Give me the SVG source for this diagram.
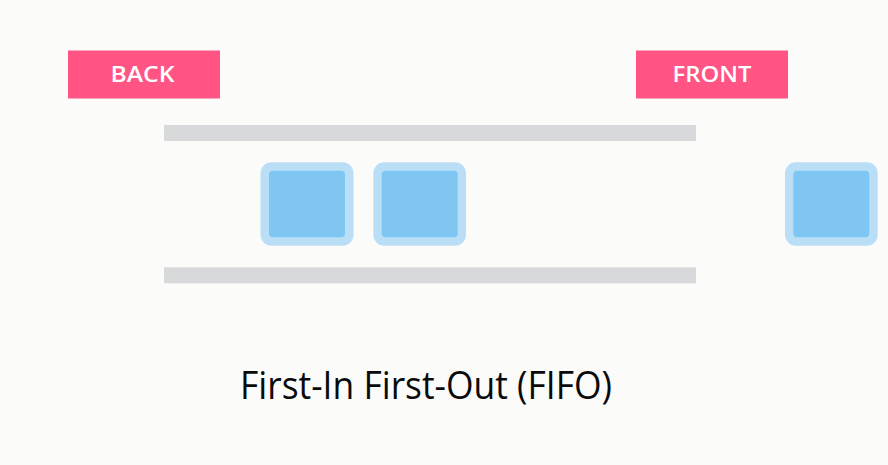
<svg xmlns="http://www.w3.org/2000/svg" width="888" height="465" viewBox="0 0 888 465">
<style>
.tag{fill:#FF5484}
.tagt{fill:#FFFFFF;font-family:"Open Sans","Liberation Sans",sans-serif;font-weight:600;font-size:22px;text-anchor:middle}
.bar{fill:#D8D9DB}
.outer{fill:#BBDEF7}
.inner{fill:#7FC6F3}
.title{fill:#0A0A0A;font-family:"Open Sans","Liberation Sans",sans-serif;font-weight:500;font-size:39px}
</style>
<rect width="888" height="465" fill="#FBFBFA"/>
<g id="back">
<rect class="tag" x="68" y="50.5" width="152" height="48"/>
<text class="tagt" x="142.5" y="81.7" textLength="64" lengthAdjust="spacingAndGlyphs">BACK</text>
</g>
<g id="front">
<rect class="tag" x="636" y="50.5" width="152" height="48"/>
<text class="tagt" x="712" y="81.7" textLength="79" lengthAdjust="spacingAndGlyphs">FRONT</text>
</g>
<g id="queue-bars">
<rect class="bar" x="164" y="125" width="532" height="16"/>
<rect class="bar" x="164" y="267.3" width="532" height="16"/>
</g>
<g id="item1">
<rect class="outer" x="260.5" y="162.3" width="93" height="83.5" rx="11"/>
<rect class="inner" x="269" y="170.7" width="76" height="66.6" rx="4"/>
</g>
<g id="item2">
<rect class="outer" x="373.3" y="162.3" width="92.7" height="83.5" rx="11"/>
<rect class="inner" x="381.7" y="170.7" width="76" height="66.6" rx="4"/>
</g>
<g id="item3">
<rect class="outer" x="785" y="162.3" width="92.7" height="83.5" rx="11"/>
<rect class="inner" x="793.3" y="170.7" width="76" height="66.6" rx="4"/>
</g>
<g id="connectors"></g>
<text class="title" x="240" y="399" textLength="372" lengthAdjust="spacingAndGlyphs">First-In First-Out (FIFO)</text>
</svg>
